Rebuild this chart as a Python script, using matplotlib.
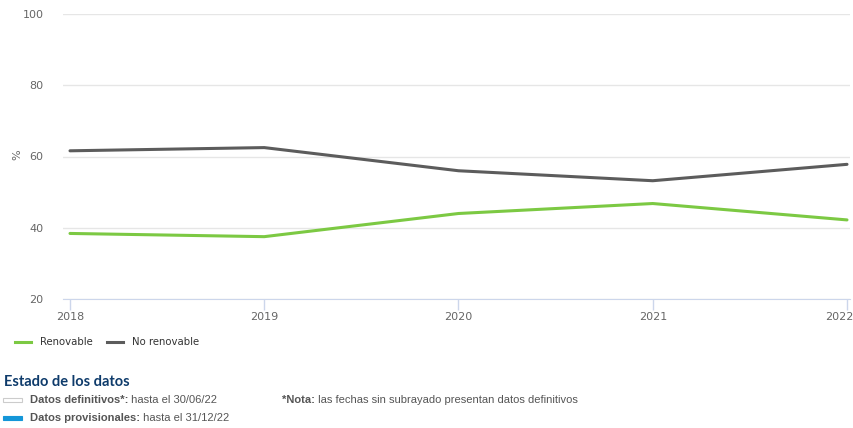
import matplotlib.pyplot as plt
from matplotlib.patches import Rectangle
from matplotlib.lines import Line2D
import matplotlib.transforms as mtransforms

years = [2018, 2019, 2020, 2021, 2022]
renovable = [38.4, 37.5, 44.0, 46.8, 42.2]
no_renovable = [61.6, 62.5, 56.0, 53.2, 57.8]
y_ticks = [20, 40, 60, 80, 100]

GREEN = '#7cc943'
GREY = '#5c5c5c'
W, H = 854, 428

fig = plt.figure(figsize=(W / 100, H / 100), dpi=100)
ax = fig.add_axes([63 / W, 1 - 299 / H, (850 - 63) / W, (299 - 14) / H])

ax.plot(years, renovable, color=GREEN, lw=2.2, solid_capstyle='round')
ax.plot(years, no_renovable, color=GREY, lw=2.2, solid_capstyle='round')

ax.set_xlim(2018 - 7 / 194.25, 2022 + 3 / 194.25)
ax.set_ylim(20, 100)
ax.set_yticks(y_ticks)
ax.set_xticks(years)
ax.grid(axis='y', color='#e6e6e6', lw=1)
ax.set_axisbelow(True)
for s in ['top', 'right', 'left']:
    ax.spines[s].set_visible(False)
ax.spines['bottom'].set_color('#ccd6eb')
ax.tick_params(axis='y', length=0, pad=14, labelsize=8, labelcolor='#666666')
ax.tick_params(axis='x', length=8, width=1, color='#ccd6eb', pad=1,
               labelsize=8, labelcolor='#666666')

# el último año se pega al borde derecho
last = ax.get_xticklabels()[-1]
last.set_horizontalalignment('right')
last.set_transform(last.get_transform() +
                   mtransforms.ScaledTranslation(6 / 100, 0, fig.dpi_scale_trans))

fig.text(17 / W, 1 - 155 / H, '%', rotation=90, ha='center', va='center',
         fontsize=8, color='#666666')

# leyenda
for x0, color, label in [(15, GREEN, 'Renovable'), (107, GREY, 'No renovable')]:
    fig.add_artist(Line2D([x0 / W, (x0 + 16) / W], [1 - 342 / H] * 2,
                          color=color, lw=2.2))
    fig.text((x0 + 25) / W, 1 - 342 / H, label, ha='left', va='center',
             fontsize=7.3, color='#333333')

# estado de los datos
fig.text(4 / W, 1 - 382 / H, 'Estado de los datos', ha='left', va='center',
         fontsize=10.5, fontweight='bold', color='#0e3b6b', family='Lato')

fig.add_artist(Rectangle((3 / W, 1 - 402 / H), 19 / W, 4 / H,
                         facecolor='white', edgecolor='#cccccc', lw=0.8))
fig.add_artist(Rectangle((3 / W, 1 - 420 / H), 19 / W, 4 / H,
                         facecolor='#1496d8', edgecolor='#1496d8', lw=0.8))

rows = [
    (30, 400, 'Datos definitivos*:', ' hasta el 30/06/22'),
    (30, 418, 'Datos provisionales:', ' hasta el 31/12/22'),
    (282, 400, '*Nota:', ' las fechas sin subrayado presentan datos definitivos'),
]
for x0, y0, bold, rest in rows:
    t = fig.text(x0 / W, 1 - y0 / H, bold, ha='left', va='center', fontsize=8,
                 fontweight='bold', color='#555555', family='Liberation Sans')
    fig.canvas.draw()
    bb = t.get_window_extent()
    fig.text(bb.x1 / W, 1 - y0 / H, rest, ha='left', va='center', fontsize=8,
             color='#555555', family='Liberation Sans')

fig.savefig('out.png', dpi=100)
